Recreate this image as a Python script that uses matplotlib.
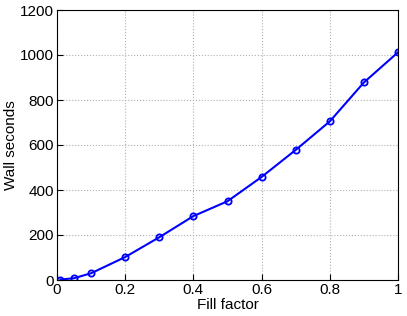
import matplotlib
matplotlib.use("Agg")
import matplotlib.pyplot as plt

fill_factor = [0.01, 0.05, 0.1, 0.2, 0.3, 0.4, 0.5, 0.6, 0.7, 0.8, 0.9, 1.0]
wall_seconds = [2, 8, 30, 102, 190, 284, 350, 458, 578, 705, 878, 1012]

plt.rcParams['font.family'] = ['Liberation Sans', 'DejaVu Sans']

fig = plt.figure(figsize=(4.07, 3.16), dpi=100)
ax = fig.add_axes([57/407, 36/316, 341/407, 270/316])

ax.plot(fill_factor, wall_seconds, color='#0000ff', linewidth=1.5,
        marker='o', markersize=4.5, markerfacecolor='none', markeredgewidth=1.3)

ax.set_xlim(0, 1)
ax.set_ylim(0, 1200)
ax.set_xticks([0, 0.2, 0.4, 0.6, 0.8, 1])
ax.set_xticklabels(['0', '0.2', '0.4', '0.6', '0.8', '1'])
ax.set_yticks(range(0, 1201, 200))
ax.grid(True, linestyle=':', color='#b0b0b0', linewidth=0.8)
ax.tick_params(direction='in', labelsize=11, length=4, pad=2)
ax.set_xlabel('Fill factor', fontsize=11, va='center')
ax.set_ylabel('Wall seconds', fontsize=11, va='center')
ax.xaxis.set_label_coords(0.5, -0.093)
ax.yaxis.set_label_coords(-0.135, 0.5)

fig.savefig('out.png', dpi=100)
